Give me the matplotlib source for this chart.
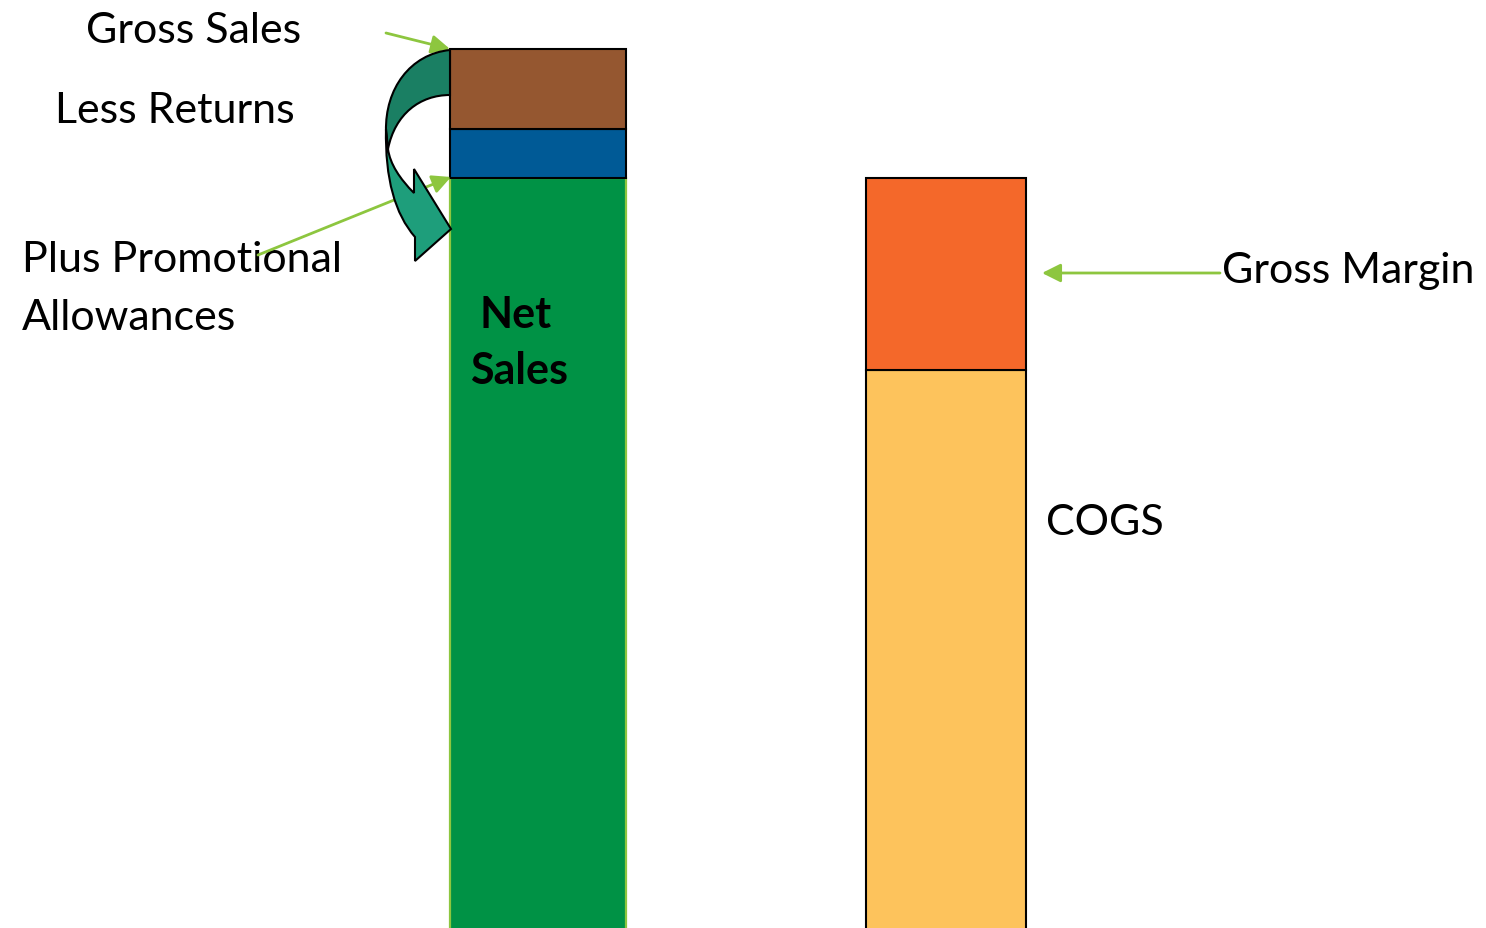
import matplotlib.pyplot as plt
from matplotlib.path import Path
from matplotlib.patches import PathPatch

# bar data (values measured from a baseline just below the picture)
bar_x = [538, 946]
bar_width = [176, 160]

net_sales = 754
promo_allowances = 49
returns = 80

cogs = 562
gross_margin = 192

H = 929  # picture height
W = 1486
BASE = 4  # baseline sits this far below the bottom edge


def Y(py):
    # pixel row from the top -> data y
    return H + BASE - py


fig = plt.figure(figsize=(W / 100, H / 100), dpi=100)
ax = fig.add_axes([0, 0, 1, 1])
ax.set_xlim(0, W)
ax.set_ylim(BASE, H + BASE)
ax.axis('off')

green_line = '#8DC63F'
font = 'Lato'

# left stacked bar
ax.bar(bar_x[0], net_sales, width=bar_width[0], color='#009245',
       edgecolor=green_line, linewidth=1.6, zorder=2)
ax.bar(bar_x[0], promo_allowances, bottom=net_sales, width=bar_width[0],
       color='#005A96', edgecolor='black', linewidth=1.5, zorder=2)
ax.bar(bar_x[0], returns, bottom=net_sales + promo_allowances, width=bar_width[0],
       color='#955730', edgecolor='black', linewidth=1.5, zorder=2)

# right stacked bar
ax.bar(bar_x[1], cogs, width=bar_width[1], color='#FDC35C',
       edgecolor='black', linewidth=1.5, zorder=2)
ax.bar(bar_x[1], gross_margin, bottom=cogs, width=bar_width[1], color='#F4682A',
       edgecolor='black', linewidth=1.5, zorder=2)

# pointer arrows
arrow_kw = dict(arrowstyle='-|>', color=green_line, lw=2, mutation_scale=28,
                shrinkA=0, shrinkB=0)
ax.annotate('', xy=(450, Y(50)), xytext=(386, Y(34)), arrowprops=arrow_kw, zorder=3)
ax.annotate('', xy=(451, Y(178)), xytext=(258, Y(256)), arrowprops=arrow_kw, zorder=4)
ax.annotate('', xy=(1042, Y(274)), xytext=(1220, Y(274)), arrowprops=arrow_kw, zorder=3)

# curved arrow, upper (dark) part
dark = [(450, 51), (410, 55), (385, 90), (386, 132),
        (388, 150), (395, 115), (420, 96), (450, 96), (450, 51)]
dark_codes = [Path.MOVETO, Path.CURVE4, Path.CURVE4, Path.CURVE4,
              Path.LINETO, Path.CURVE4, Path.CURVE4, Path.CURVE4, Path.CLOSEPOLY]
ax.add_patch(PathPatch(Path([(x, Y(y)) for x, y in dark], dark_codes),
                       facecolor='#1A7F63', edgecolor='black', lw=1.5, zorder=5))

# curved arrow, lower (light) part with head
light = [(386, 130), (385, 180), (395, 215), (415, 238),
         (415, 262), (451, 230), (414, 170), (414, 194),
         (400, 180), (390, 165), (388, 150), (386, 130)]
light_codes = [Path.MOVETO, Path.CURVE4, Path.CURVE4, Path.CURVE4,
               Path.LINETO, Path.LINETO, Path.LINETO, Path.LINETO,
               Path.CURVE4, Path.CURVE4, Path.CURVE4, Path.CLOSEPOLY]
ax.add_patch(PathPatch(Path([(x, Y(y)) for x, y in light], light_codes),
                       facecolor='#1E9E7B', edgecolor='black', lw=1.5, zorder=5))

# labels
fs = 31
ax.text(86, Y(43), 'Gross Sales', fontsize=fs, family=font, va='baseline', zorder=3)
ax.text(55, Y(123), 'Less Returns', fontsize=fs, family=font, va='baseline', zorder=3)
ax.text(22, Y(272), 'Plus Promotional', fontsize=fs, family=font, va='baseline', zorder=3)
ax.text(22, Y(330), 'Allowances', fontsize=fs, family=font, va='baseline', zorder=3)
ax.text(516, Y(328), 'Net', fontsize=fs, family=font, weight='bold', ha='center',
        va='baseline', zorder=3)
ax.text(519, Y(384), 'Sales', fontsize=fs, family=font, weight='bold', ha='center',
        va='baseline', zorder=3)
ax.text(1222, Y(283), 'Gross Margin', fontsize=fs, family=font, va='baseline', zorder=3)
ax.text(1046, Y(535), 'COGS', fontsize=fs, family=font, va='baseline', zorder=3)

fig.savefig('out.png', dpi=100)
